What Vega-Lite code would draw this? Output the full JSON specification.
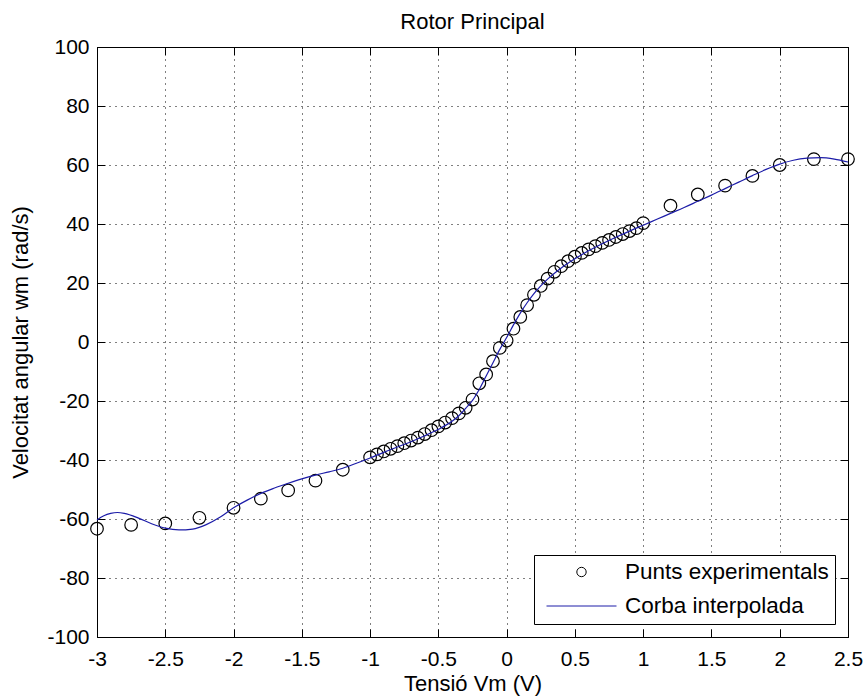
{
  "$schema": "https://vega.github.io/schema/vega-lite/v6.json",
  "autosize": "none",
  "width": 751,
  "height": 590,
  "padding": {"left": 97, "top": 47, "right": 17, "bottom": 62},
  "background": "white",
  "title": {"text": "Rotor Principal", "fontSize": 22, "font": "Liberation Sans", "fontWeight": "normal", "color": "black", "baseline": "alphabetic", "offset": -15, "anchor": "middle"},
  "config": {
    "font": "Liberation Sans",
    "view": {"stroke": "black", "strokeWidth": 1},
    "legend": {
      "orient": "bottom-right", "offset": 13, "strokeColor": "black", "fillColor": "white",
      "padding": 6, "symbolSize": 4900, "symbolStrokeWidth": 1, "clipHeight": 22, "rowPadding": 11,
      "labelFontSize": 22.5, "labelFont": "Liberation Sans", "labelColor": "black", "labelOffset": 8, "symbolOffset": 6,
      "labelLimit": 400, "cornerRadius": 0
    }
  },
  "datasets": {
    "pts": [
      {"x": -3.0, "y": -63.3}, {"x": -2.75, "y": -62.0}, {"x": -2.5, "y": -61.5}, {"x": -2.25, "y": -59.6},
      {"x": -2.0, "y": -56.2}, {"x": -1.8, "y": -53.1}, {"x": -1.6, "y": -50.3}, {"x": -1.4, "y": -47.0},
      {"x": -1.2, "y": -43.3},
      {"x": -1.0, "y": -39.1}, {"x": -0.95, "y": -38.1}, {"x": -0.9, "y": -37.1}, {"x": -0.85, "y": -36.2},
      {"x": -0.8, "y": -35.3}, {"x": -0.75, "y": -34.3}, {"x": -0.7, "y": -33.4}, {"x": -0.65, "y": -32.4},
      {"x": -0.6, "y": -31.2}, {"x": -0.55, "y": -29.9}, {"x": -0.5, "y": -28.6}, {"x": -0.45, "y": -27.3},
      {"x": -0.4, "y": -25.8}, {"x": -0.35, "y": -24.2}, {"x": -0.3, "y": -22.3}, {"x": -0.25, "y": -19.5},
      {"x": -0.2, "y": -14.0}, {"x": -0.15, "y": -11.0}, {"x": -0.1, "y": -6.5}, {"x": -0.05, "y": -2.0},
      {"x": 0.0, "y": 0.5}, {"x": 0.05, "y": 4.5}, {"x": 0.1, "y": 8.5}, {"x": 0.15, "y": 12.5},
      {"x": 0.2, "y": 16.0}, {"x": 0.25, "y": 19.0}, {"x": 0.3, "y": 21.5}, {"x": 0.35, "y": 23.8},
      {"x": 0.4, "y": 25.7}, {"x": 0.45, "y": 27.4}, {"x": 0.5, "y": 28.9}, {"x": 0.55, "y": 30.2},
      {"x": 0.6, "y": 31.4}, {"x": 0.65, "y": 32.5}, {"x": 0.7, "y": 33.6}, {"x": 0.75, "y": 34.6},
      {"x": 0.8, "y": 35.6}, {"x": 0.85, "y": 36.6}, {"x": 0.9, "y": 37.6}, {"x": 0.95, "y": 38.6},
      {"x": 1.0, "y": 40.3},
      {"x": 1.2, "y": 46.2}, {"x": 1.4, "y": 50.0}, {"x": 1.6, "y": 53.0}, {"x": 1.8, "y": 56.3},
      {"x": 2.0, "y": 60.0}, {"x": 2.25, "y": 62.0}, {"x": 2.5, "y": 62.0}
    ],
    "curve": [
      {"x": -3.0, "y": -60.3}, {"x": -2.95, "y": -58.9}, {"x": -2.9, "y": -58.1}, {"x": -2.85, "y": -57.8},
      {"x": -2.8, "y": -58.1}, {"x": -2.7, "y": -59.6}, {"x": -2.6, "y": -61.6}, {"x": -2.5, "y": -63.1},
      {"x": -2.4, "y": -63.7}, {"x": -2.3, "y": -63.4}, {"x": -2.2, "y": -61.9}, {"x": -2.1, "y": -59.4},
      {"x": -2.0, "y": -56.2}, {"x": -1.9, "y": -53.6}, {"x": -1.8, "y": -51.3}, {"x": -1.7, "y": -49.5},
      {"x": -1.6, "y": -47.9}, {"x": -1.5, "y": -46.4}, {"x": -1.4, "y": -45.1}, {"x": -1.3, "y": -44.0},
      {"x": -1.2, "y": -42.8}, {"x": -1.1, "y": -41.1}, {"x": -1.0, "y": -39.3}, {"x": -0.9, "y": -37.4},
      {"x": -0.8, "y": -35.6}, {"x": -0.7, "y": -33.8}, {"x": -0.6, "y": -31.8}, {"x": -0.5, "y": -29.6},
      {"x": -0.4, "y": -26.9}, {"x": -0.35, "y": -25.0}, {"x": -0.3, "y": -22.5}, {"x": -0.25, "y": -19.8},
      {"x": -0.2, "y": -16.0}, {"x": -0.15, "y": -11.5}, {"x": -0.1, "y": -7.0}, {"x": -0.05, "y": -2.5},
      {"x": 0.0, "y": 1.5}, {"x": 0.05, "y": 5.8}, {"x": 0.1, "y": 9.8}, {"x": 0.15, "y": 13.3},
      {"x": 0.2, "y": 16.4}, {"x": 0.25, "y": 19.0}, {"x": 0.3, "y": 21.3}, {"x": 0.35, "y": 23.3},
      {"x": 0.4, "y": 25.1}, {"x": 0.5, "y": 28.2}, {"x": 0.6, "y": 30.9}, {"x": 0.7, "y": 33.3},
      {"x": 0.8, "y": 35.5}, {"x": 0.9, "y": 37.6}, {"x": 1.0, "y": 39.6}, {"x": 1.1, "y": 41.6},
      {"x": 1.2, "y": 43.6}, {"x": 1.3, "y": 45.6}, {"x": 1.4, "y": 47.7}, {"x": 1.5, "y": 49.8},
      {"x": 1.6, "y": 52.0}, {"x": 1.7, "y": 54.2}, {"x": 1.8, "y": 56.4}, {"x": 1.9, "y": 58.5},
      {"x": 2.0, "y": 60.3}, {"x": 2.1, "y": 61.6}, {"x": 2.2, "y": 62.3}, {"x": 2.3, "y": 62.5},
      {"x": 2.4, "y": 62.0}, {"x": 2.5, "y": 61.0}
    ]
  },
  "resolve": {"axis": {"x": "independent", "y": "independent"}},
  "layer": [
    {
      "data": {"name": "pts"},
      "mark": {"type": "point", "filled": false, "size": 8836, "strokeWidth": 1.2, "opacity": 1},
      "encoding": {
        "x": {
          "field": "x", "type": "quantitative",
          "scale": {"domain": [-3, 2.5], "nice": false, "zero": false},
          "axis": {
            "orient": "bottom", "values": [-3, -2.5, -2, -1.5, -1, -0.5, 0, 0.5, 1, 1.5, 2, 2.5],
            "labelExpr": "'' + datum.value", "grid": true, "gridDash": [1, 5], "gridColor": "black", "gridOpacity": 1, "gridWidth": 1,
            "domain": false, "tickSize": -8, "tickColor": "black", "tickWidth": 1,
            "labelPadding": 19, "labelFontSize": 21, "labelColor": "black", "labelFlush": false, "labelOverlap": false,
            "title": "Tensió Vm (V)", "titleFontSize": 22, "titleFontWeight": "normal", "titlePadding": 4, "titleColor": "black"
          }
        },
        "y": {
          "field": "y", "type": "quantitative",
          "scale": {"domain": [-100, 100], "nice": false, "zero": false},
          "axis": {
            "orient": "left", "values": [-100, -80, -60, -40, -20, 0, 20, 40, 60, 80, 100],
            "labelExpr": "'' + datum.value", "grid": true, "gridDash": [1, 5], "gridColor": "black", "gridOpacity": 1, "gridWidth": 1,
            "domain": false, "tickSize": -8, "tickColor": "black", "tickWidth": 1,
            "labelPadding": 16, "labelFontSize": 21, "labelColor": "black", "labelFlush": false, "labelOverlap": false,
            "title": "Velocitat angular wm (rad/s)", "titleFontSize": 22, "titleFontWeight": "normal", "titlePadding": 14, "titleColor": "black"
          }
        },
        "color": {
          "datum": "Punts experimentals", "type": "nominal",
          "scale": {"domain": ["Punts experimentals", "Corba interpolada"], "range": ["black", "#1c1ca8"]},
          "legend": {"title": null}
        },
        "shape": {
          "datum": "Punts experimentals", "type": "nominal",
          "scale": {"domain": ["Punts experimentals", "Corba interpolada"], "range": ["M0.134,0A0.134,0.134,0,1,1,-0.134,0A0.134,0.134,0,1,1,0.134,0Z", "M-1,0H1"]},
          "legend": {"title": null}
        }
      }
    },
    {
      "data": {"name": "curve"},
      "mark": {"type": "line", "stroke": "#1c1ca8", "strokeWidth": 1.2, "interpolate": "monotone"},
      "encoding": {
        "x": {
          "field": "x", "type": "quantitative",
          "axis": {"orient": "top", "values": [-3, -2.5, -2, -1.5, -1, -0.5, 0, 0.5, 1, 1.5, 2, 2.5], "labels": false, "grid": false, "domain": false, "tickSize": -8, "tickColor": "black", "tickWidth": 1, "title": null}
        },
        "y": {
          "field": "y", "type": "quantitative",
          "axis": {"orient": "right", "values": [-100, -80, -60, -40, -20, 0, 20, 40, 60, 80, 100], "labels": false, "grid": false, "domain": false, "tickSize": -8, "tickColor": "black", "tickWidth": 1, "title": null}
        }
      }
    }
  ]
}
